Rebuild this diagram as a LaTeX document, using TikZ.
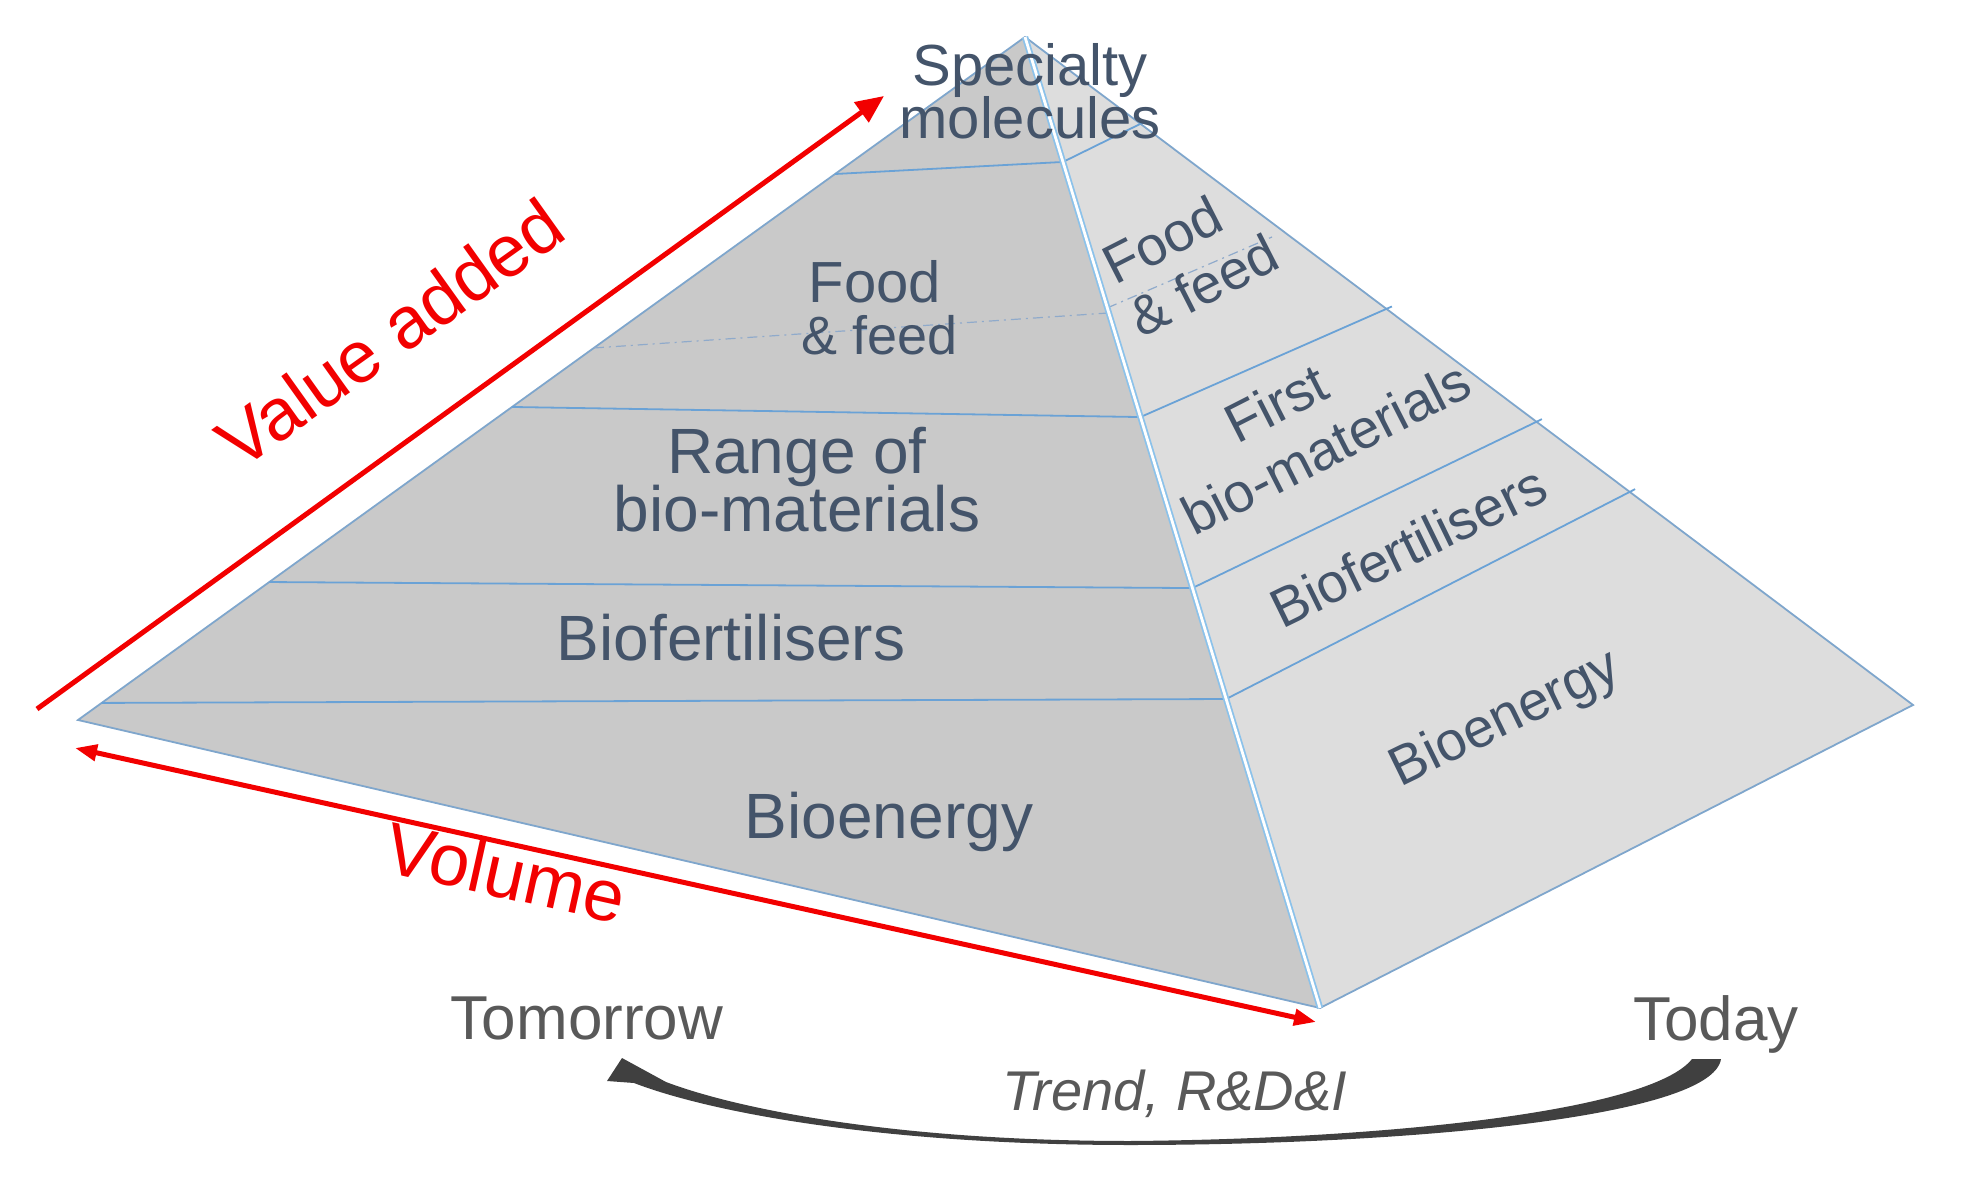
\documentclass[tikz,border=0pt]{standalone}
\usepackage{fontspec}
\setmainfont{Liberation Sans}
\usetikzlibrary{arrows.meta,calc}
\definecolor{leftface}{HTML}{C9C9C9}
\definecolor{rightface}{HTML}{DDDDDD}
\definecolor{edgeblue}{HTML}{7FA6CC}
\definecolor{bandblue}{HTML}{6AA2D6}
\definecolor{frontblue}{HTML}{8CC2EA}
\definecolor{dashblue}{HTML}{8FAACB}
\definecolor{txt}{HTML}{44546A}
\definecolor{arrred}{HTML}{F20000}
\definecolor{graytxt}{HTML}{595959}
\definecolor{trendgray}{HTML}{404040}
\begin{document}
\begin{tikzpicture}[x=0.5pt,y=-0.5pt,
  ftxt/.style={text=txt, inner sep=0pt},
  band/.style={draw=bandblue, line width=0.9pt},
  outline/.style={draw=edgeblue, line width=0.9pt},
  dashdot/.style={draw=dashblue, line width=0.6pt, dash pattern=on 5pt off 2.5pt on 1pt off 2.5pt},
  redline/.style={draw=arrred, line width=2.5pt},
  sz29/.style={font=\fontsize{29}{35}\selectfont},
  sz27/.style={font=\fontsize{27}{33}\selectfont},
  sz32/.style={font=\fontsize{32}{38}\selectfont},
  szright/.style={font=\fontsize{27.5}{33}\selectfont},
  szred/.style={font=\fontsize{36.5}{44}\selectfont},
  szbottom/.style={font=\fontsize{31}{37}\selectfont},
  sztrend/.style={font=\fontsize{28}{34}\selectfont\itshape},
]
\useasboundingbox (0,0) rectangle (1963,1186);

% pyramid vertices
\coordinate (A) at (1025,37);
\coordinate (L) at (78,720);
\coordinate (B) at (1320,1008);
\coordinate (R) at (1913,705);

% faces
\fill[leftface] (A) -- (L) -- (B) -- cycle;
\fill[rightface] (A) -- (B) -- (R) -- cycle;

% outer edges
\draw[outline] (A) -- (L) -- (B) -- (R) -- cycle;

% left face band lines
\draw[band] ($(A)!0.2006!(L)$) -- ($(A)!0.1287!(B)$);
\draw[band] ($(A)!0.5417!(L)$) -- ($(A)!0.3914!(B)$);
\draw[band] ($(A)!0.798!(L)$) -- ($(A)!0.5675!(B)$);
\draw[band] ($(A)!0.975!(L)$) -- ($(A)!0.6818!(B)$);

% right face band lines
\draw[band, shorten >=-3pt] ($(A)!0.1287!(B)$) -- ($(A)!0.13!(R)$);
\draw[band, shorten >=-3pt] ($(A)!0.3914!(B)$) -- ($(A)!0.407!(R)$);
\draw[band, shorten >=-3pt] ($(A)!0.5675!(B)$) -- ($(A)!0.576!(R)$);
\draw[band, shorten >=-3pt] ($(A)!0.6818!(B)$) -- ($(A)!0.681!(R)$);

% dash-dot food / feed separators
\coordinate (dR) at (1272,237);
\draw[dashdot] ($(A)!0.4553!(L)$) -- ($(A)!0.2842!(B)$);
\draw[dashdot] ($(A)!0.279!(B)$) -- (dR);

% front edge (double line)
\draw[draw=frontblue, line width=0.9pt, double=white, double distance=1.4pt] (A) -- (B);

% left face texts
\node[ftxt, sz29, anchor=base] (spec1) at (1030,86) {Specialty};
\node[ftxt, sz29, anchor=base] (spec2) at (1030,139) {molecules};
\node[ftxt, sz29, anchor=base] (foodL) at (875,303) {Food};
\node[ftxt, sz27, anchor=base] (feedL) at (880,355) {\&~feed};
\node[ftxt, sz32, anchor=base] (rangeL) at (797,474) {Range of};
\node[ftxt, sz32, anchor=base] (biomatL) at (797,532) {bio-materials};
\node[ftxt, sz32, anchor=base] (biofertL) at (731,661) {Biofertilisers};
\node[ftxt, sz32, anchor=base] (bioenL) at (889,838) {Bioenergy};

% right face texts
\node[ftxt, szright, rotate=27] (foodR) at (1162,240) {Food};
\node[ftxt, szright, rotate=27] (feedR) at (1203,285) {\&~feed};
\node[ftxt, szright, rotate=27] (firstR) at (1276,403) {First};
\node[ftxt, szright, rotate=27] (biomatR) at (1326,448) {bio-materials};
\node[ftxt, szright, rotate=26] (biofertR) at (1408,546) {Biofertilisers};
\node[ftxt, szright, rotate=26] (bioenR) at (1506,720) {Bioenergy};

% red arrows
\coordinate (va0) at (37,709);
\coordinate (va1) at (884,96);
\draw[redline, -{Triangle[length=14pt,width=12pt]}] (va0) -- (va1);
\coordinate (vo0) at (75,748);
\coordinate (vo1) at (1316,1022);
\draw[redline, {Triangle[length=11pt,width=8pt]}-{Triangle[length=11pt,width=8pt]}] (vo0) -- (vo1);
\node[text=arrred, inner sep=0pt, szred, rotate=35.5] (valueadded) at (390,333) {Value added};
\node[text=arrred, inner sep=0pt, szred, rotate=-12.5] (volume) at (506,872) {Volume};

% Tomorrow / Today
\node[text=graytxt, inner sep=0pt, szbottom, anchor=base] (tomorrow) at (587,1039) {Tomorrow};
\node[text=graytxt, inner sep=0pt, szbottom, anchor=base] (today) at (1716,1040) {Today};
\node[text=graytxt, inner sep=0pt, sztrend, anchor=base] (trend) at (1175,1110) {Trend, R\&D\&I};

% curved trend arrow (tapered, from Today to Tomorrow)
\fill[trendgray] (622,1058) -- (607,1081) -- (634,1083)
  .. controls (720,1116) and (900,1145) .. (1130,1145)
  .. controls (1400,1145) and (1712,1118) .. (1721,1059)
  -- (1692,1059)
  .. controls (1650,1112) and (1380,1139) .. (1130,1141)
  .. controls (900,1141) and (740,1110) .. (666,1082) -- cycle;
\end{tikzpicture}
\end{document}
